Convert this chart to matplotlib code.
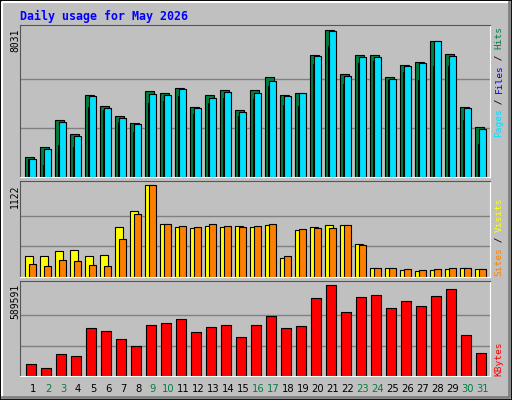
import numpy as np
import matplotlib.pyplot as plt
from matplotlib.patches import Rectangle

days = list(range(1, 32))
weekend = [2, 3, 9, 10, 16, 17, 23, 24, 30, 31]

hits = [1111, 1657, 3132, 2349, 4480, 3879, 3333, 2950, 4662, 4589, 4862, 3824, 4480, 4753, 3679,
        4717, 5427, 4480, 4589, 6665, 8031, 5627, 6665, 6665, 5463, 6119, 6283, 7430, 6720, 3824, 2732]
files = [983, 1530, 3005, 2240, 4425, 3770, 3223, 2896, 4534, 4480, 4808, 3770, 4316, 4644, 3551,
         4589, 5245, 4425, 4589, 6611, 7976, 5518, 6556, 6556, 5354, 6064, 6228, 7430, 6611, 3770, 2622]
pages = [983, 674, 1767, 1657, 3824, 3660, 3005, 2458, 4043, 4170, 4425, 3442, 4043, 4316, 3333,
         4261, 4971, 3933, 3879, 6174, 7157, 5081, 6228, 6337, 5299, 5736, 5299, 6064, 6064, 3114, 1803]
visits = [259, 259, 320, 332, 259, 271, 612, 806, 1122, 648, 612, 600, 624, 612, 624,
          612, 636, 235, 575, 612, 636, 636, 405, 113, 113, 89, 77, 89, 101, 113, 101]
sites = [162, 138, 211, 198, 150, 138, 466, 770, 1122, 648, 624, 612, 648, 624, 612,
         624, 648, 259, 587, 600, 600, 636, 393, 113, 113, 101, 89, 101, 113, 113, 101]
kbytes = [79616, 53795, 144170, 131260, 312010, 292640, 241000, 195810, 331380, 344290, 370110,
          286190, 318460, 331380, 253910, 331380, 389470, 312010, 324920, 505670, 589591, 415290,
          512120, 525030, 441120, 486300, 454020, 518580, 563770, 266820, 150620]

W, H = 512, 400
BG = '#C0C0C0'
fig = plt.figure(figsize=(W / 100, H / 100), dpi=100, facecolor=BG)

# outer bevel frame
fig.add_artist(Rectangle((0, 0), 1, 1, transform=fig.transFigure, fill=False, ec='black', lw=2))
fig.add_artist(plt.Line2D([2 / W, 2 / W, 1 - 2 / W], [2 / H, 1 - 2 / H, 1 - 2 / H], transform=fig.transFigure, color='white', lw=1.5))
fig.add_artist(plt.Line2D([2 / W, 1 - 3 / W, 1 - 3 / W], [3 / H, 3 / H, 1 - 2 / H], transform=fig.transFigure, color='#808080', lw=2))

x = np.array(days)
L = 25 + 15 * (x - 1)


def panel(top, bottom, vmax, base):
    ax = fig.add_axes([20 / W, (H - bottom) / H, 470 / W, (bottom - top) / H])
    ax.set_facecolor(BG)
    ax.set_xlim(20, 490)
    ax.set_ylim(0, vmax * (bottom - top) / (base - 4))
    for g in (vmax / 3, 2 * vmax / 3):
        ax.axhline(g, color='#808080', lw=1, zorder=0)
    ax.set_xticks([])
    ax.set_yticks([])
    ax.spines['top'].set_color('#555555')
    ax.spines['left'].set_color('#555555')
    ax.spines['bottom'].set_color('white')
    ax.spines['right'].set_color('white')
    return ax


def bars(ax, left, w, vals, color):
    ax.bar(left, vals, width=w, align='edge', color=color, edgecolor='black', lw=0.8, zorder=2)


ax1 = panel(25, 177, max(hits), 176.3 - 25)
bars(ax1, L, 8.5, hits, '#008040')
bars(ax1, L + 2.7, 2, pages, '#0000FF')
bars(ax1, L + 4.3, 6.7, files, '#00E0FF')

ax2 = panel(180.5, 277, max(visits), 276.7 - 180.5)
bars(ax2, L, 8.3, visits, '#FFFF00')
bars(ax2, L + 4, 7, sites, '#FF8000')

ax3 = panel(280.5, 376, max(kbytes), 375.7 - 280.5)
bars(ax3, L + 1, 10, kbytes, '#FF0000')

mono = 'DejaVu Sans Mono'
fig.text(20 / W, 1 - 16 / H, 'Daily usage for May 2026', color='#0000FF', family=mono,
         fontweight='bold', fontsize=8.4, va='center', ha='left')

# max labels on the left
for label, ytop in (('8031', 29), ('1122', 184), ('589591', 284)):
    fig.text(15 / W, 1 - ytop / H, label, rotation=90, family=mono, fontsize=7,
             ha='center', va='top')

# right side legends
cw = 5.5


def side(pieces, ybottom):
    y = ybottom
    for txt, col in pieces:
        fig.text(499 / W, 1 - y / H, txt, rotation=90, family=mono, fontsize=6.8,
                 color=col, ha='center', va='bottom')
        y -= cw * len(txt)


side([('Pages', '#00E0FF'), (' / ', 'black'), ('Files', '#0000FF'), (' / ', 'black'), ('Hits', '#008040')], 137)
side([('Sites', '#FF8000'), (' / ', 'black'), ('Visits', '#FFFF00')], 276)
side([('KBytes', '#FF0000')], 376)

for d, l in zip(days, L):
    fig.text((l + 8) / W, 1 - 389 / H, str(d), ha='center', va='center', fontsize=7.2,
             color='#008040' if d in weekend else 'black')

fig.savefig('out.png', dpi=100, facecolor=BG)
